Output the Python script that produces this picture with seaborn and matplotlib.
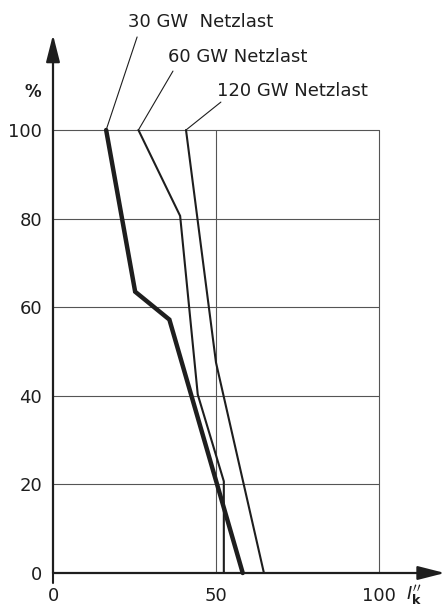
import matplotlib
matplotlib.use("Agg")
import matplotlib.pyplot as plt
import seaborn as sns
import pandas as pd

# ---- data ----
series_names = ["30 GW Netzlast", "60 GW Netzlast", "120 GW Netzlast"]
x_30 = [16.3, 25.2, 35.7, 58.2]
y_30 = [100, 63.5, 57.2, 0]
x_60 = [26.2, 39.0, 44.4, 52.4, 52.4]
y_60 = [100, 80.6, 40.3, 20.7, 0]
x_120 = [40.8, 50.0, 64.7]
y_120 = [100, 47.5, 0]
x_ticks = [0, 50, 100]
x_tick_labels = ["0", "50", "100"]
y_ticks = [0, 20, 40, 60, 80, 100]
y_tick_labels = ["0", "20", "40", "60", "80", "100"]

sns.set_style("white")
plt.rcParams["font.family"] = ["DejaVu Sans"]

ink = "#1e1e1e"
W, H = 444, 612
fig = plt.figure(figsize=(W / 100, H / 100), dpi=100)
fig.patch.set_facecolor("white")
# axes: x 0->px 53, 100->px 379 ; y 0->px 573, 100->px 130
ax = fig.add_axes([53 / W, (H - 573) / H, (379 - 53) / W, (573 - 130) / H])
ax.set_facecolor("white")

frames = []
for name, xs, ys in zip(series_names, [x_30, x_60, x_120], [y_30, y_60, y_120]):
    frames.append(pd.DataFrame({"x": xs, "y": ys, "series": name}))
df = pd.concat(frames, ignore_index=True)

widths = {"30 GW Netzlast": 3.2, "60 GW Netzlast": 1.5, "120 GW Netzlast": 1.5}
for name in series_names:
    sub = df[df["series"] == name]
    sns.lineplot(data=sub, x="x", y="y", sort=False, estimator=None, errorbar=None,
                 color=ink, linewidth=widths[name], ax=ax, zorder=5, clip_on=False,
                 solid_joinstyle="miter")

ax.set_xlim(0, 100)
ax.set_ylim(0, 100)
for s in ax.spines.values():
    s.set_visible(False)

# grid
for yv in y_ticks[1:]:
    ax.plot([0, 100], [yv, yv], color="#555555", lw=0.8, zorder=1, clip_on=False)
for xv in x_ticks[1:]:
    ax.plot([xv, xv], [0, 100], color="#555555", lw=0.8, zorder=1, clip_on=False)

# axes with arrows
ax.annotate("", xy=(0, 121.5), xytext=(0, 0), xycoords="data",
            arrowprops=dict(arrowstyle="-|>,head_length=1.1,head_width=0.28",
                            lw=1.6, color=ink, mutation_scale=15,
                            shrinkA=0, shrinkB=0),
            annotation_clip=False, zorder=6)
ax.annotate("", xy=(120.2, 0), xytext=(0, 0), xycoords="data",
            arrowprops=dict(arrowstyle="-|>,head_length=1.1,head_width=0.28",
                            lw=1.6, color=ink, mutation_scale=15,
                            shrinkA=0, shrinkB=0),
            annotation_clip=False, zorder=6)
# small tick below origin
ax.plot([0, 0], [0, -2.3], color=ink, lw=1.5, clip_on=False)

ax.set_xticks(x_ticks)
ax.set_xticklabels(x_tick_labels)
ax.set_yticks(y_ticks)
ax.set_yticklabels(y_tick_labels)
ax.tick_params(axis="x", length=0, pad=10, labelsize=13, colors=ink)
ax.tick_params(axis="y", length=6.5, width=1.4, direction="out", pad=1.5,
               labelsize=13, colors=ink)
ax.set_xlabel("")
ax.set_ylabel("")

ax.text(-6.3, 108.5, "%", fontsize=12, fontweight="bold", ha="center", va="center",
        color=ink, clip_on=False)
ax.text(110.8, -5.2, r"$I_{\mathbf{k}}''$", fontsize=13, ha="center", va="center",
        color=ink, clip_on=False)

# series labels with leader lines
labels = [("30 GW  Netzlast", 23.0, 124.4, (25.8, 121.0), (x_30[0], y_30[0])),
          ("60 GW Netzlast", 35.3, 116.4, (36.8, 113.3), (x_60[0], y_60[0])),
          ("120 GW Netzlast", 50.3, 108.7, (51.5, 106.3), (x_120[0], y_120[0]))]
for txt, tx, ty, p0, p1 in labels:
    ax.text(tx, ty, txt, fontsize=13, ha="left", va="center", color=ink, clip_on=False)
    ax.plot([p0[0], p1[0]], [p0[1], p1[1]], color=ink, lw=0.8, clip_on=False)

fig.savefig("out.png", dpi=100, facecolor="white")
